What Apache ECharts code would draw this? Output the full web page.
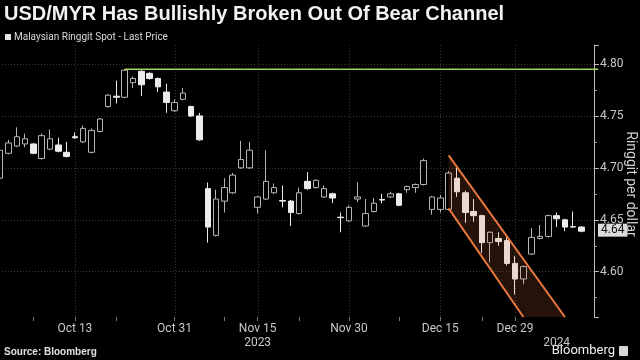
<!DOCTYPE html>
<html><head><meta charset="utf-8">
<script src="https://cdn.jsdelivr.net/npm/echarts@6/dist/echarts.min.js"></script>
<style>html,body{margin:0;padding:0;background:#000}#c{width:640px;height:360px}</style>
</head><body><div id="c"></div>
<script>
// Trading days (Oct 2 2023 - Jan 11 2024) plus one empty slot at the end
const dates = ['Oct 2','Oct 3','Oct 4','Oct 5','Oct 6','Oct 9','Oct 10','Oct 11','Oct 12','Oct 13',
  'Oct 16','Oct 17','Oct 18','Oct 19','Oct 20','Oct 23','Oct 24','Oct 25','Oct 26','Oct 27','Oct 30','Oct 31',
  'Nov 1','Nov 2','Nov 3','Nov 6','Nov 7','Nov 8','Nov 9','Nov 10','Nov 14','Nov 15','Nov 16','Nov 17',
  'Nov 20','Nov 21','Nov 22','Nov 23','Nov 24','Nov 27','Nov 28','Nov 29','Nov 30',
  'Dec 1','Dec 4','Dec 5','Dec 6','Dec 7','Dec 8','Dec 11','Dec 12','Dec 13','Dec 14','Dec 15',
  'Dec 18','Dec 19','Dec 20','Dec 21','Dec 22','Dec 26','Dec 27','Dec 28','Dec 29',
  'Jan 2','Jan 3','Jan 4','Jan 5','Jan 8','Jan 9','Jan 10','Jan 11',''];
const opens  = [4.690,4.714,4.721,4.723,4.723,4.709,4.718,4.722,4.715,4.730,4.725,4.715,4.735,4.759,4.769,4.768,4.782,4.793,4.791,4.786,4.773,4.755,4.766,4.759,4.750,
  4.680,4.635,4.668,4.676,4.700,4.700,4.662,4.670,4.676,4.6685,4.668,4.656,4.687,4.681,4.672,4.675,4.6525,4.649,4.670,4.644,4.658,4.6695,4.672,4.675,4.679,4.681,4.684,
  4.660,4.660,4.660,4.690,4.676,4.658,4.654,4.628,4.632,4.630,4.608,4.593,4.617,4.632,4.634,4.654,4.650,4.6435,4.643];
const closes = [4.717,4.724,4.730,4.728,4.714,4.731,4.728,4.716,4.711,4.729,4.738,4.736,4.747,4.770,4.768,4.794,4.786,4.780,4.786,4.778,4.763,4.763,4.772,4.750,4.727,
  4.643,4.670,4.681,4.693,4.708,4.717,4.672,4.687,4.681,4.668,4.657,4.676,4.680,4.688,4.680,4.671,4.652,4.662,4.672,4.656,4.666,4.669,4.675,4.664,4.682,4.684,4.707,
  4.672,4.671,4.695,4.677,4.657,4.654,4.628,4.638,4.629,4.608,4.593,4.605,4.633,4.634,4.654,4.651,4.643,4.643,4.639];
const lows   = [4.688,4.713,4.720,4.720,4.713,4.708,4.717,4.715,4.710,4.728,4.724,4.714,4.734,4.758,4.762,4.767,4.777,4.769,4.785,4.773,4.753,4.754,4.765,4.749,4.726,
  4.628,4.634,4.657,4.675,4.699,4.699,4.656,4.669,4.675,4.662,4.644,4.655,4.679,4.680,4.671,4.666,4.638,4.648,4.667,4.643,4.657,4.666,4.671,4.663,4.676,4.676,4.683,
  4.655,4.657,4.659,4.672,4.647,4.648,4.618,4.609,4.625,4.606,4.578,4.588,4.616,4.631,4.633,4.643,4.639,4.642,4.638];
const highs  = [4.719,4.727,4.739,4.733,4.724,4.733,4.737,4.729,4.725,4.734,4.741,4.738,4.748,4.771,4.784,4.795,4.788,4.794,4.792,4.787,4.781,4.766,4.777,4.760,4.753,
  4.686,4.679,4.690,4.695,4.726,4.725,4.673,4.717,4.685,4.683,4.669,4.681,4.696,4.689,4.683,4.676,4.657,4.664,4.686,4.670,4.671,4.675,4.677,4.676,4.683,4.685,4.709,
  4.673,4.674,4.697,4.700,4.678,4.670,4.655,4.639,4.638,4.635,4.615,4.606,4.642,4.645,4.655,4.657,4.651,4.658,4.644];
const labelDates = ['Oct 13','Oct 31','Nov 15','Nov 30','Dec 15','Dec 29'];
const yearLabels = {'Nov 15':'2023','Jan 8':'2024'};
const minorTickDates = ['Oct 6','Oct 20','Nov 8','Nov 22','Dec 8','Dec 22'];
const resistance = {from: 'Oct 23', level: 4.795};
const channelUpper = [[53.9, 4.712],[68.3, 4.5564]];
const channelLower = [[53.6, 4.661],[63.4, 4.5564]];
const lastPrice = 4.64;
const yMin = 4.5564, yMax = 4.8183;

const labelIdx = labelDates.map(d => dates.indexOf(d));
const yearIdx = Object.keys(yearLabels).map(d => dates.indexOf(d));
const tickIdx = labelIdx.concat(minorTickDates.map(d => dates.indexOf(d)));
const candles = opens.map((o, i) => [o, closes[i], lows[i], highs[i]]);

const chart = echarts.init(document.getElementById('c'), null, {renderer: 'canvas'});
const F = 'Roboto, "Noto Sans", sans-serif';
chart.setOption({
  backgroundColor: '#000',
  animation: false,
  grid: {left: -4, right: 46, top: 45, bottom: 43, containLabel: false, outerBoundsMode: 'none'},
  xAxis: {
    type: 'category', data: dates, boundaryGap: true,
    axisLine: {show: false},
    axisTick: {show: true, alignWithLabel: true, length: 4, interval: i => tickIdx.includes(i), lineStyle: {color: '#777'}},
    axisLabel: {
      interval: i => labelIdx.includes(i) || yearIdx.includes(i),
      hideOverlap: false,
      color: '#c8c8c8', fontSize: 12, fontFamily: F, margin: 5, lineHeight: 14,
      formatter: (v) => {
        const y = yearLabels[v];
        if (labelDates.includes(v)) return y ? v + '\n' + y : v;
        return y ? '\n' + y : '';
      }
    },
    splitLine: {show: false}
  },
  yAxis: {
    type: 'value', position: 'right', min: yMin, max: yMax, splitNumber: 5, scale: true,
    axisLine: {show: true, lineStyle: {color: '#bdbdbd'}},
    axisTick: {show: true, length: 5, lineStyle: {color: '#bdbdbd'}},
    minorTick: {show: true, splitNumber: 2, length: 3, lineStyle: {color: '#999'}},
    axisLabel: {color: '#c8c8c8', fontSize: 12, fontFamily: F, margin: 6, showMinLabel: false, showMaxLabel: false,
      formatter: v => v.toFixed(2)},
    splitLine: {show: true, showMinLine: false, showMaxLine: false, lineStyle: {color: '#3a3a3a', type: [1, 2]}}
  },
  graphic: [
    {type: 'text', left: 4, top: 4, style: {text: 'USD/MYR Has Bullishly Broken Out Of Bear Channel', fill: '#f2f2f2', font: 'bold 20px "Liberation Sans", Arial, sans-serif'}},
    {type: 'rect', left: 5, top: 34, shape: {width: 6, height: 6}, style: {fill: '#e6e6e6'}},
    {type: 'text', left: 14, top: 32, style: {text: 'Malaysian Ringgit Spot - Last Price', fill: '#d8d8d8', font: '10px ' + F}},
    {type: 'text', x: 630, y: 184, rotation: -Math.PI / 2, style: {text: 'Ringgit per dollar', fill: '#d0d0d0', font: '14px ' + F, align: 'center', verticalAlign: 'middle'}},
    {type: 'text', left: 4, top: 347, style: {text: 'Source: Bloomberg', fill: '#e0e0e0', font: 'bold 10px "Liberation Sans", Arial, sans-serif'}},
    {type: 'text', right: 25, top: 344, style: {text: 'Bloomberg', fill: '#f0f0f0', font: '13px ' + F}},
    {type: 'rect', right: 12, top: 346, shape: {width: 9, height: 10, r: 1}, style: {fill: '#d8d8d8'}}
  ],
  series: [
    {
      type: 'custom', z: 1, silent: true,
      data: labelIdx.map(i => [i]),
      encode: {x: 0},
      renderItem: (params, api) => {
        const top = api.coord([api.value(0), yMax]);
        const bot = api.coord([api.value(0), yMin]);
        const x = Math.round(top[0]) + 0.5;
        return {type: 'line', shape: {x1: x, y1: top[1], x2: x, y2: bot[1]}, style: {stroke: '#3a3a3a', lineWidth: 1, lineDash: [1, 2]}};
      }
    },
    {
      type: 'candlestick', z: 2, data: candles, barWidth: 6,
      itemStyle: {color: '#000', color0: '#ececec', borderColor: '#b5b5b5', borderColor0: '#ececec', borderWidth: 1},
      markLine: {
        silent: true, symbol: 'none',
        data: [{yAxis: lastPrice}],
        lineStyle: {color: 'rgba(0,0,0,0)', width: 0},
        label: {show: true, position: 'end', formatter: lastPrice.toFixed(2), backgroundColor: '#dcdcdc', color: '#111', fontSize: 12, fontFamily: F, padding: [1, 3, 0, 3], distance: 4}
      }
    },
    {
      type: 'custom', z: 5, silent: true,
      data: [[0]],
      encode: {x: 0},
      renderItem: (params, api) => {
        const u0 = api.coord(channelUpper[0]), u1 = api.coord(channelUpper[1]);
        const l0 = api.coord(channelLower[0]), l1 = api.coord(channelLower[1]);
        return {type: 'group', children: [
          {type: 'polygon', shape: {points: [u0, u1, l1, l0]}, style: {fill: 'rgba(232,110,50,0.16)'}},
          {type: 'line', shape: {x1: u0[0], y1: u0[1], x2: u1[0], y2: u1[1]}, style: {stroke: '#e8783f', lineWidth: 2}},
          {type: 'line', shape: {x1: l0[0], y1: l0[1], x2: l1[0], y2: l1[1]}, style: {stroke: '#e8783f', lineWidth: 2}}
        ]};
      }
    },
    {
      type: 'custom', z: 4, silent: true,
      data: [[0]],
      encode: {x: 0},
      renderItem: (params, api) => {
        const a = api.coord([dates.indexOf(resistance.from), resistance.level]);
        const b = api.coord([dates.length - 0.5, resistance.level]);
        return {type: 'line', shape: {x1: a[0], y1: a[1], x2: b[0], y2: b[1]}, style: {stroke: '#9fd25e', lineWidth: 1.5}};
      }
    }
  ]
});
</script></body></html>
